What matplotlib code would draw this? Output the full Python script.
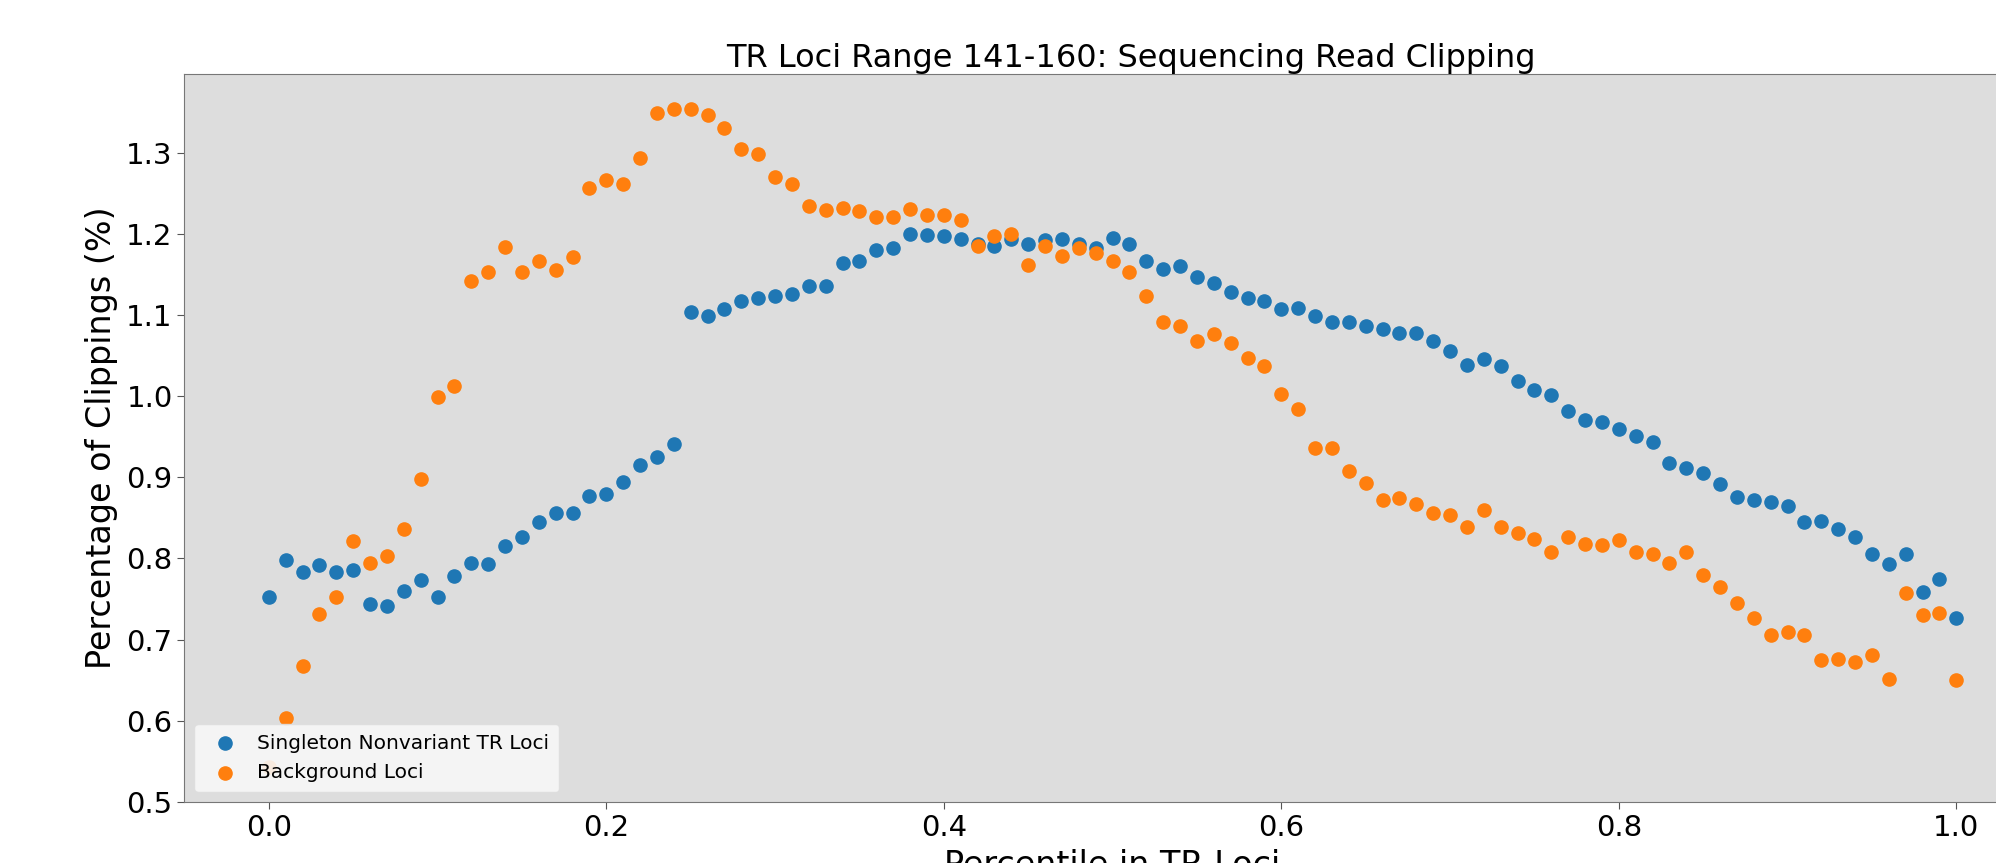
import numpy as np
import matplotlib
matplotlib.use("Agg")
import matplotlib.pyplot as plt

# percentile positions 0.00 .. 1.00
percentile = np.round(np.arange(0, 101) / 100, 2)

# Singleton Nonvariant TR Loci
singleton = [
    0.752, 0.798, 0.783, 0.792, 0.783, 0.786, 0.744, 0.741, 0.760, 0.773,
    0.752, 0.778, 0.795, 0.793, 0.816, 0.827, 0.845, 0.856, 0.856, 0.877,
    0.879, 0.894, 0.915, 0.925, 0.941, 1.104, 1.099, 1.107, 1.117, 1.121,
    1.124, 1.126, 1.136, 1.136, 1.164, 1.166, 1.180, 1.183, 1.200, 1.199,
    1.197, 1.194, 1.187, 1.185, 1.194, 1.187, 1.192, 1.194, 1.188, 1.183,
    1.195, 1.188, 1.166, 1.157, 1.161, 1.147, 1.139, 1.128, 1.121, 1.117,
    1.107, 1.109, 1.099, 1.092, 1.091, 1.086, 1.083, 1.078, 1.078, 1.068,
    1.056, 1.038, 1.046, 1.037, 1.019, 1.008, 1.001, 0.982, 0.971, 0.968,
    0.959, 0.951, 0.943, 0.918, 0.911, 0.905, 0.892, 0.876, 0.872, 0.869,
    0.865, 0.845, 0.846, 0.836, 0.827, 0.806, 0.793, 0.805, 0.759, 0.775,
    0.727,
]

# Background Loci
background = [
    0.543, 0.604, 0.668, 0.732, 0.753, 0.821, 0.794, 0.803, 0.836, 0.898,
    0.999, 1.012, 1.142, 1.153, 1.184, 1.153, 1.167, 1.155, 1.172, 1.256,
    1.266, 1.261, 1.294, 1.349, 1.354, 1.354, 1.346, 1.331, 1.305, 1.298,
    1.270, 1.261, 1.234, 1.229, 1.232, 1.228, 1.221, 1.221, 1.231, 1.223,
    1.223, 1.217, 1.185, 1.197, 1.200, 1.162, 1.185, 1.173, 1.183, 1.177,
    1.167, 1.153, 1.124, 1.091, 1.087, 1.068, 1.077, 1.065, 1.047, 1.037,
    1.003, 0.984, 0.936, 0.936, 0.908, 0.893, 0.872, 0.875, 0.867, 0.856,
    0.853, 0.839, 0.860, 0.839, 0.831, 0.824, 0.808, 0.826, 0.818, 0.817,
    0.823, 0.808, 0.806, 0.794, 0.808, 0.780, 0.765, 0.745, 0.727, 0.706,
    0.709, 0.706, 0.675, 0.676, 0.673, 0.681, 0.651, 0.758, 0.731, 0.733,
    0.650,
]

labels = ["Singleton Nonvariant TR Loci", "Background Loci"]
title = "TR Loci Range 141-160: Sequencing Read Clipping"

fig = plt.figure(figsize=(19.96, 8.63), dpi=100)
# the axes runs past the right and bottom edge like in the cropped original
ax = fig.add_axes([0.0924, 0.0707, 0.930, 0.8436])
ax.set_facecolor("#dddddd")

ax.scatter(percentile, singleton, s=90, color="#1f77b4", label=labels[0], zorder=2)
ax.scatter(percentile, background, s=90, color="#ff7f0e", label=labels[1], zorder=3)

ax.set_xlim(-0.05, 1.05)
ax.set_ylim(0.5, 1.397)
ax.set_yticks(np.arange(0.5, 1.31, 0.1))
ax.set_xticks([0.0, 0.2, 0.4, 0.6, 0.8, 1.0])
ax.tick_params(labelsize=21, length=5, color="#555555")
for sp in ax.spines.values():
    sp.set_color("#777777")

ax.set_title(title, fontsize=23, pad=5, x=0.51)
ax.set_xlabel("Percentile in TR Loci", fontsize=24, labelpad=5)
ax.set_ylabel("Percentage of Clippings (%)", fontsize=24, labelpad=6)

ax.legend(loc="lower left", fontsize=14.5, frameon=True, facecolor="#f7f7f7",
          edgecolor="#dddddd", framealpha=0.9, handletextpad=0.6, borderaxespad=0.5,
          borderpad=0.5)

fig.savefig("out.png", dpi=100)
